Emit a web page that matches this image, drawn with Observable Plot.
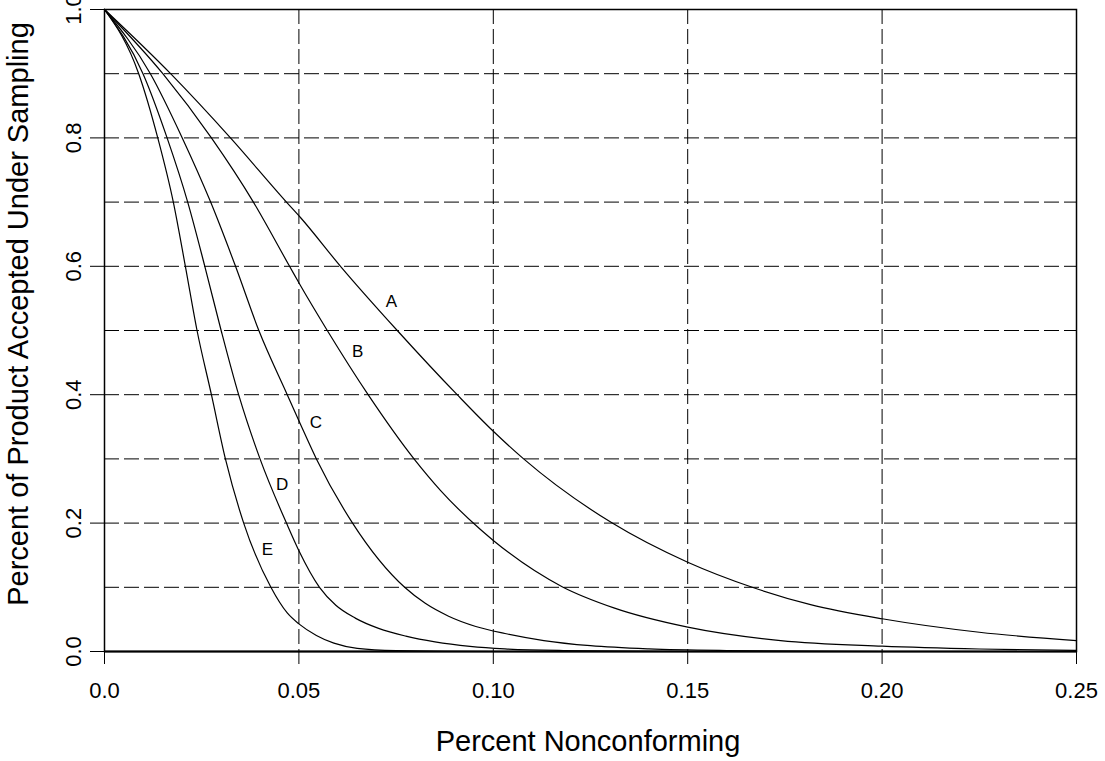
<!DOCTYPE html>
<html>
<head>
<meta charset="utf-8">
<script src="https://cdn.jsdelivr.net/npm/d3@7"></script>
<script src="https://cdn.jsdelivr.net/npm/@observablehq/plot@0.6"></script>
<style>
  html, body { margin: 0; padding: 0; background: #fff; }
</style>
</head>
<body>
<div id="chart"></div>
<script>
// Operating characteristic curves: probability of acceptance vs. fraction nonconforming
const curveNames = ["A", "B", "C", "D", "E"];

const pA  = [0, 0.0170, 0.0324, 0.0468, 0.0504, 0.0607, 0.0753, 0.0907, 0.1000, 0.1078, 0.1306, 0.1500, 0.1666, 0.1816, 0.2000, 0.2250, 0.2500];
const paA = [1, 0.900, 0.800, 0.700, 0.676, 0.600, 0.500, 0.400, 0.343, 0.300, 0.200, 0.139, 0.100, 0.073, 0.051, 0.030, 0.017];

const pB  = [0, 0.0150, 0.0275, 0.0383, 0.0476, 0.0504, 0.0573, 0.0678, 0.0796, 0.0864, 0.0967, 0.1000, 0.1177, 0.1310, 0.1500, 0.1739, 0.2000, 0.2250, 0.2500];
const paB = [1, 0.900, 0.800, 0.700, 0.600, 0.570, 0.500, 0.400, 0.300, 0.251, 0.190, 0.173, 0.101, 0.068, 0.038, 0.017, 0.0083, 0.0039, 0.0018];

const pC  = [0, 0.0118, 0.0200, 0.0273, 0.0337, 0.0397, 0.0470, 0.0504, 0.0545, 0.0638, 0.0772, 0.0825, 0.0885, 0.0955, 0.1030, 0.1130, 0.1250, 0.1400, 0.1600, 0.2000, 0.2500];
const paC = [1, 0.900, 0.800, 0.700, 0.600, 0.500, 0.400, 0.354, 0.300, 0.200, 0.100, 0.075, 0.055, 0.039, 0.028, 0.017, 0.009, 0.004, 0.0015, 0, 0];

const pD  = [0, 0.0099, 0.0161, 0.0214, 0.0258, 0.0300, 0.0345, 0.0400, 0.0468, 0.0500, 0.0553, 0.0595, 0.0645, 0.0705, 0.0775, 0.0850, 0.0940, 0.1030, 0.1180, 0.1500, 0.2500];
const paD = [1, 0.900, 0.800, 0.700, 0.600, 0.500, 0.400, 0.300, 0.200, 0.157, 0.100, 0.072, 0.052, 0.036, 0.024, 0.015, 0.008, 0.004, 0.0015, 0, 0];

const pE  = [0, 0.0088, 0.0137, 0.0177, 0.0208, 0.0238, 0.0275, 0.0311, 0.0358, 0.0428, 0.0470, 0.0500, 0.0545, 0.0590, 0.0650, 0.0750, 0.1000, 0.2500];
const paE = [1, 0.900, 0.800, 0.700, 0.600, 0.500, 0.400, 0.300, 0.200, 0.100, 0.060, 0.043, 0.025, 0.013, 0.005, 0.0015, 0, 0];

// Curve label anchor points
const labelP  = [0.0738, 0.0651, 0.0544, 0.0457, 0.0419];
const labelPa = [0.545, 0.467, 0.357, 0.260, 0.159];

// Axis ticks and grid
const xTicks = [0, 0.05, 0.10, 0.15, 0.20, 0.25];
const xTickLabels = ["0.0", "0.05", "0.10", "0.15", "0.20", "0.25"];
const yTicks = [0, 0.2, 0.4, 0.6, 0.8, 1.0];
const yTickLabels = ["0.0", "0.2", "0.4", "0.6", "0.8", "1.0"];
const xGrid = [0.05, 0.10, 0.15, 0.20];
const yGrid = [0.1, 0.2, 0.3, 0.4, 0.5, 0.6, 0.7, 0.8, 0.9];

const xTitle = "Percent Nonconforming";
const yTitle = "Percent of Product Accepted Under Sampling";

const seriesP = [pA, pB, pC, pD, pE];
const seriesPa = [paA, paB, paC, paD, paE];
const rows = curveNames.flatMap((name, k) =>
  seriesP[k].map((p, i) => ({curve: name, p, pa: seriesPa[k][i]}))
);
const labels = curveNames.map((name, i) => ({name, p: labelP[i], pa: labelPa[i]}));

const chart = Plot.plot({
  width: 1105,
  height: 761,
  marginLeft: 104,
  marginRight: 29,
  marginTop: 9,
  marginBottom: 110,
  style: {fontFamily: "'Liberation Sans', Arial, Helvetica, sans-serif", fontSize: "22px", color: "black", background: "white"},
  x: {domain: [0, 0.25]},
  y: {domain: [0, 1]},
  marks: [
    Plot.ruleX(xGrid, {stroke: "black", strokeWidth: 1, strokeDasharray: "15,5"}),
    Plot.ruleY(yGrid, {stroke: "black", strokeWidth: 1, strokeDasharray: "15,5"}),
    Plot.line(rows, {x: "p", y: "pa", z: "curve", curve: "monotone-x", stroke: "black", strokeWidth: 1.2}),
    Plot.text(labels, {x: "p", y: "pa", text: "name", fontSize: 17, fill: "black"}),
    Plot.frame({stroke: "black", strokeWidth: 1.5}),
    Plot.ruleY([0], {stroke: "black", strokeWidth: 2}),
    Plot.axisX({ticks: xTicks, tickFormat: (d, i) => xTickLabels[i], tickSize: 13, tickPadding: 18, label: null, stroke: "black", fill: "black"}),
    Plot.axisY({ticks: yTicks, tickFormat: (d, i) => yTickLabels[i], tickSize: 14, tickPadding: 9.5, tickRotate: -90, label: null, stroke: "black", fill: "black"}),
    Plot.text([xTitle], {frameAnchor: "bottom", text: d => d, dy: 99, dx: -2.5, textAnchor: "middle", lineAnchor: "bottom", fontSize: 29, fill: "black"}),
    Plot.text([yTitle], {frameAnchor: "left", text: d => d, rotate: -90, dx: -77, dy: -16.5, textAnchor: "middle", lineAnchor: "bottom", fontSize: 29, fill: "black"})
  ]
});

document.getElementById("chart").appendChild(chart);
</script>
</body>
</html>
